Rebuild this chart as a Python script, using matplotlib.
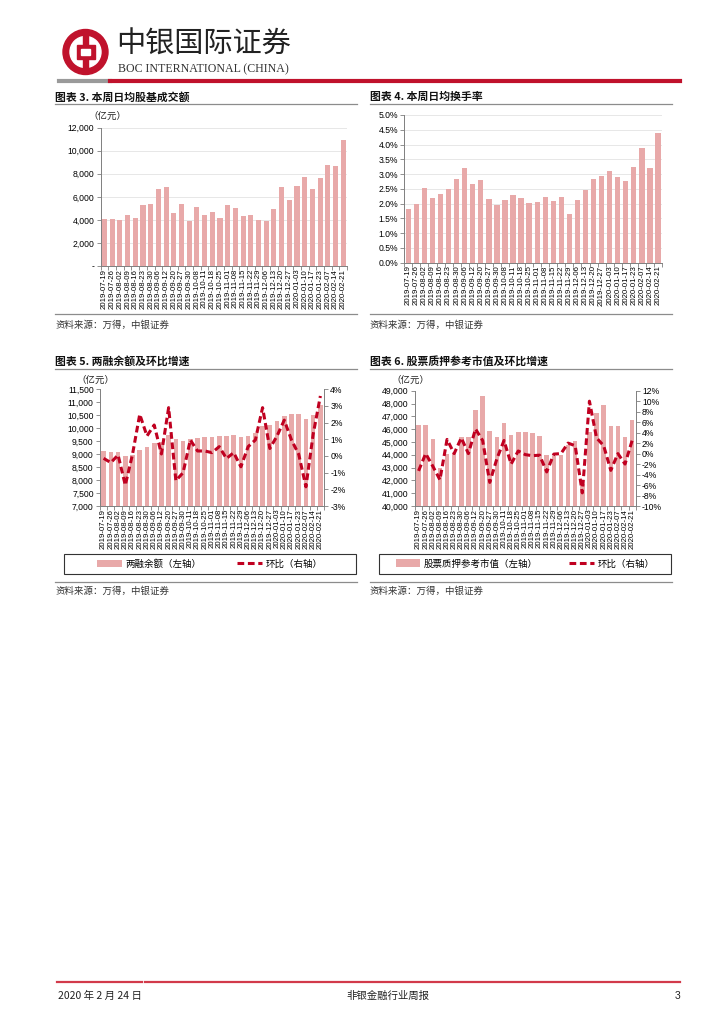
import numpy as np
import matplotlib
matplotlib.use("Agg")
import matplotlib.pyplot as plt
from matplotlib.patches import Circle, Rectangle, Patch
from matplotlib.lines import Line2D

CJK = ["Noto Sans CJK SC", "DejaVu Sans"]
LAT = ["Liberation Sans", "DejaVu Sans"]

# weekly dates
dates32 = ["2019-07-19", "2019-07-26", "2019-08-02", "2019-08-09", "2019-08-16", "2019-08-23",
           "2019-08-30", "2019-09-06", "2019-09-12", "2019-09-20", "2019-09-27", "2019-09-30",
           "2019-10-08", "2019-10-11", "2019-10-18", "2019-10-25", "2019-11-01", "2019-11-08",
           "2019-11-15", "2019-11-22", "2019-11-29", "2019-12-06", "2019-12-13", "2019-12-20",
           "2019-12-27", "2020-01-03", "2020-01-10", "2020-01-17", "2020-01-23", "2020-02-07",
           "2020-02-14", "2020-02-21"]
dates31 = [d for d in dates32 if d != "2019-10-08"]

# 图表3 日均股基成交额 (亿元)
turnover = [4050, 4100, 3950, 4400, 4150, 5300, 5400, 6700, 6850, 4600, 5400, 3900,
            5150, 4450, 4700, 4200, 5300, 5050, 4300, 4450, 4000, 3900, 4950, 6850,
            5700, 6950, 7700, 6700, 7650, 8800, 8700, 10950]
# 图表4 日均换手率 (%)
turn_rate = [1.82, 1.99, 2.54, 2.19, 2.34, 2.51, 2.82, 3.19, 2.65, 2.79, 2.17, 1.95,
             2.13, 2.29, 2.19, 2.02, 2.05, 2.21, 2.09, 2.21, 1.65, 2.11, 2.46, 2.83,
             2.93, 3.10, 2.90, 2.75, 3.23, 3.87, 3.21, 4.40]
# 图表5 两融余额 (亿元) 及环比 (%)
margin_bal = [9120, 9080, 9090, 8940, 8950, 9170, 9280, 9440, 9460, 9740, 9590, 9500,
              9570, 9620, 9650, 9670, 9710, 9710, 9730, 9670, 9710, 9810, 10100, 10140,
              10260, 10470, 10560, 10550, 10370, 10510, 10890]
margin_chg = [-0.14, -0.4, 0.06, -1.75, 0.1, 2.5, 1.2, 1.86, 0.12, 2.9, -1.48, -1.0,
              0.96, 0.3, 0.3, 0.2, 0.56, -0.15, 0.2, -0.65, 0.56, 0.96, 2.9, 0.45,
              1.2, 2.15, 0.96, 0.1, -1.85, 1.3, 3.6]
# 图表6 股票质押参考市值 (亿元) 及环比 (%)
pledge_val = [46300, 46300, 45200, 43000, 44050, 44100, 45350, 45350, 47500, 48550, 45850,
              45400, 46500, 45550, 45800, 45800, 45670, 45460, 43970, 43900, 43950, 44800,
              45100, 41700, 45800, 47230, 47880, 46240, 46240, 45350, 46700]
pledge_chg = [-3.3, 0.0, -2.4, -5.0, 2.7, 0.0, 3.0, 0.0, 4.7, 2.5, -5.5, -1.0, 2.5, -2.0,
              0.5, -0.2, -0.4, -0.3, -3.5, -0.1, 0.0, 2.0, 1.5, -7.5, 10.0, 3.0, 1.5,
              -3.2, 0.0, -2.0, 2.5]

BAR = "#E8A9A9"
LINE = "#C00020"
RED = "#C0122C"
GRAY = "#8C8C8C"
DASH = (0, (2.2, 1.2))

W, H = 724, 1024
fig = plt.figure(figsize=(W / 100, H / 100), dpi=100, facecolor="white")


def box(x0, y0, x1, y1):
    return [x0 / W, 1 - y1 / H, (x1 - x0) / W, (y1 - y0) / H]


def ftext(x, y, s, **kw):
    kw.setdefault("va", "center")
    fig.text(x / W, 1 - y / H, s, **kw)


def hline(x0, x1, y, color, lw):
    fig.add_artist(Line2D([x0 / W, x1 / W], [1 - y / H, 1 - y / H], color=color, lw=lw))


# ---- header ----
lg = fig.add_axes(box(60, 27, 112, 79))
lg.set_xlim(60, 112); lg.set_ylim(79, 27); lg.axis("off")
cx, cy = 85.5, 52
lg.add_patch(Circle((cx, cy), 22.5, color=RED))
lg.add_patch(Circle((cx, cy), 15.5, color="white"))
lg.add_patch(Rectangle((cx - 2.6, cy - 17), 5.2, 34, color=RED))
lg.add_patch(Rectangle((cx - 9, cy - 7), 18, 14, color=RED))
lg.add_patch(Rectangle((cx - 4.5, cy - 3), 9, 6, color="white"))

ftext(116, 45, "中银国际证券", fontsize=21, family=CJK, color="#222222")
ftext(118, 69, "BOC INTERNATIONAL (CHINA)", fontsize=8.6,
      family=["Liberation Serif", "DejaVu Serif"], color="#333333")
hline(59, 110, 80.5, "#9A9A9A", 3)
hline(110, 680, 80.5, RED, 3)

# ---- footer ----
hline(57, 142, 982, "#D23A4A", 1.6)
hline(145, 680, 982, "#D23A4A", 1.6)
ftext(58, 996, "2020 年 2 月 24 日", fontsize=7.5, family=CJK, color="#222222")
ftext(388, 996, "非银金融行业周报", fontsize=7.5, family=CJK, color="#222222", ha="center")
ftext(680, 996, "3", fontsize=7.5, family=LAT, color="#222222", ha="right")


def frame(x0, x1, y_title, y_ul, y_bl, y_src, title):
    ftext(x0, y_title, title, fontsize=7.8, family=CJK, weight="bold", color="#111111")
    hline(x0, x1, y_ul, GRAY, 0.9)
    hline(x0, x1, y_bl, GRAY, 0.9)
    ftext(x0, y_src, "资料来源：万得，中银证券", fontsize=6.8, family=CJK,
          style="italic", color="#333333")


def base_axes(rect, labels):
    ax = fig.add_axes(rect)
    n = len(labels)
    ax.set_xlim(-0.5, n - 0.5)
    for s in ["top", "right"]:
        ax.spines[s].set_visible(False)
    for s in ["left", "bottom"]:
        ax.spines[s].set_color("#7F7F7F")
        ax.spines[s].set_linewidth(0.7)
    ax.set_xticks(np.arange(n))
    ax.set_xticklabels(labels, rotation=90, fontsize=5.6, family=LAT, va="top", ha="center")
    ax.set_xticks(np.arange(n + 1) - 0.5, minor=True)
    ax.tick_params(axis="x", which="major", length=0, pad=2)
    ax.tick_params(axis="x", which="minor", length=3, width=0.6, color="#7F7F7F")
    ax.tick_params(axis="y", length=3, width=0.6, color="#7F7F7F", labelsize=6.2, pad=1.5)
    return ax


# ---- 图表3 ----
frame(55, 357, 97, 104.3, 314, 325, "图表 3. 本周日均股基成交额")
ax3 = base_axes(box(100.7, 127.7, 347, 266), dates32)
x = np.arange(len(turnover))
ax3.bar(x, turnover, width=0.66, color=BAR, zorder=2)
ax3.set_ylim(0, 12000)
ax3.set_yticks(np.arange(0, 12001, 2000))
ax3.set_yticklabels(["-"] + [f"{v:,}" for v in range(2000, 12001, 2000)], family=LAT)
ax3.grid(axis="y", color="#DDDDDD", lw=0.5, zorder=0)
ax3.set_axisbelow(True)
ftext(88, 116, "（亿元）", fontsize=6.8, family=CJK, color="#222222")

# ---- 图表4 ----
frame(370, 672, 97, 104.3, 314, 325, "图表 4. 本周日均换手率")
ax4 = base_axes(box(404.3, 115, 662, 262.7), dates32)
ax4.bar(x, turn_rate, width=0.66, color=BAR, zorder=2)
ax4.set_ylim(0, 5)
ax4.set_yticks(np.arange(0, 5.01, 0.5))
ax4.set_yticklabels([f"{v:.1f}%" for v in np.arange(0, 5.01, 0.5)], family=LAT)
ax4.grid(axis="y", color="#DDDDDD", lw=0.5, zorder=0)
ax4.set_axisbelow(True)


def combo(rect, labels, bars, chg, ylim, ystep, rlim, rstep, bar_name, leg_box, colsp):
    ax = base_axes(rect, labels)
    xx = np.arange(len(bars))
    ax.bar(xx, bars, width=0.64, color=BAR, zorder=2)
    ax.set_ylim(*ylim)
    ticks = np.arange(ylim[0], ylim[1] + 1, ystep)
    ax.set_yticks(ticks)
    ax.set_yticklabels([f"{v:,}" for v in ticks], family=LAT)
    axr = ax.twinx()
    axr.set_xlim(ax.get_xlim())
    for s in ["top", "left", "bottom"]:
        axr.spines[s].set_visible(False)
    axr.spines["right"].set_color("#7F7F7F")
    axr.spines["right"].set_linewidth(0.7)
    axr.plot(xx, chg, color=LINE, lw=2.2, ls=DASH, zorder=3)
    axr.set_ylim(*rlim)
    rt = np.arange(rlim[0], rlim[1] + 0.1, rstep)
    axr.set_yticks(rt)
    axr.set_yticklabels([f"{v:.0f}%" for v in rt], family=LAT)
    axr.tick_params(axis="y", length=3, width=0.6, color="#7F7F7F", labelsize=6.2, pad=1.5)

    x0, y0, x1, y1 = leg_box
    fig.add_artist(Rectangle((x0 / W, 1 - y1 / H), (x1 - x0) / W, (y1 - y0) / H,
                             transform=fig.transFigure, fill=False,
                             edgecolor="#333333", lw=0.8))
    handles = [Patch(facecolor=BAR, edgecolor="none"),
               Line2D([], [], color=LINE, lw=2.2, ls=DASH)]
    fig.legend(handles, [bar_name, "环比（右轴）"], loc="center", ncol=2,
               bbox_to_anchor=((x0 + x1) / 2 / W, 1 - (y0 + y1) / 2 / H),
               frameon=False, prop={"family": CJK, "size": 6.8},
               handlelength=2.6, handleheight=0.9, handletextpad=0.4,
               columnspacing=colsp, borderpad=0.2)
    return ax, axr


# ---- 图表5 ----
frame(55, 357, 361.7, 369.3, 581.7, 591, "图表 5. 两融余额及环比增速")
combo(box(100, 389.3, 324, 506), dates31, margin_bal, margin_chg,
      (7000, 11500), 500, (-3, 4), 1, "两融余额（左轴）", (64, 554, 356, 574), 3.8)
ftext(76, 380, "（亿元）", fontsize=6.8, family=CJK, color="#222222")

# ---- 图表6 ----
frame(370, 672, 361.7, 369.3, 581.7, 591, "图表 6. 股票质押参考市值及环比增速")
combo(box(415, 390.7, 635.7, 506), dates31, pledge_val, pledge_chg,
      (40000, 49000), 1000, (-10, 12), 2, "股票质押参考市值（左轴）", (379, 554, 671, 574), 3.3)
ftext(391, 380, "（亿元）", fontsize=6.8, family=CJK, color="#222222")

fig.savefig("out.png", dpi=100, facecolor="white")
